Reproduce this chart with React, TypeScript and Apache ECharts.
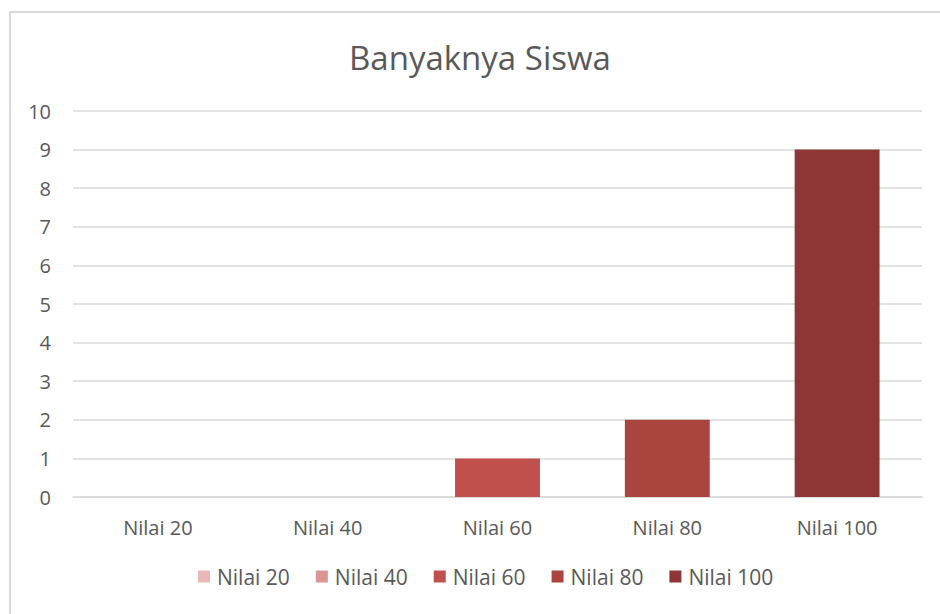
import React, { useEffect, useRef } from "react";
import * as echarts from "echarts";

const categories = ["Nilai 20", "Nilai 40", "Nilai 60", "Nilai 80", "Nilai 100"];
const values = [0, 0, 1, 2, 9];
const colors = ["#e6b9b8", "#d99694", "#c0504d", "#a9443f", "#8e3636"];
const titleText = "Banyaknya Siswa";

export default function App() {
  const ref = useRef<HTMLDivElement>(null);
  useEffect(() => {
    if (!ref.current) return;
    const chart = echarts.init(ref.current, null, { renderer: "svg" });
    const font = "'Open Sans', 'Noto Sans', sans-serif";
    const series = categories.map((name, i) => ({
      name,
      type: "bar",
      stack: "all",
      barWidth: "50%",
      itemStyle: { color: colors[i] },
      data: categories.map((_, j) => (j === i ? values[i] : null)),
    }));
    chart.setOption({
      animation: false,
      backgroundColor: "#ffffff",
      title: {
        text: titleText,
        left: 344,
        top: 36,
        textStyle: { fontFamily: font, fontSize: 33, fontWeight: "normal", color: "#595959" },
      },
      graphic: [
        {
          type: "rect",
          shape: { x: 10, y: 12, width: 960, height: 640 },
          style: { fill: "none", stroke: "#d9d9d9", lineWidth: 2 },
          silent: true,
        },
      ],
      grid: { left: 73, right: 18, top: 111, bottom: 117, containLabel: false },
      legend: {
        bottom: 22,
        left: 193,
        itemWidth: 12,
        itemHeight: 12,
        itemGap: 26,
        icon: "rect",
        textStyle: { fontFamily: font, fontSize: 21, color: "#595959", padding: [0, 0, 0, 2] },
        data: categories,
      },
      xAxis: {
        type: "category",
        data: categories,
        axisLine: { show: true, lineStyle: { color: "#d9d9d9", width: 1.5 } },
        axisTick: { show: false },
        axisLabel: { fontFamily: font, fontSize: 20, color: "#595959", margin: 20 },
      },
      yAxis: {
        type: "value",
        min: 0,
        max: 10,
        interval: 1,
        axisLine: { show: false },
        axisTick: { show: false },
        axisLabel: { fontFamily: font, fontSize: 20, color: "#595959", margin: 22 },
        splitLine: { lineStyle: { color: "#d9d9d9", width: 1.5 } },
      },
      series,
    });
    return () => chart.dispose();
  }, []);
  return (
    <div
      ref={ref}
      style={{ position: "absolute", left: 0, top: 0, width: 940, height: 614 }}
    />
  );
}
